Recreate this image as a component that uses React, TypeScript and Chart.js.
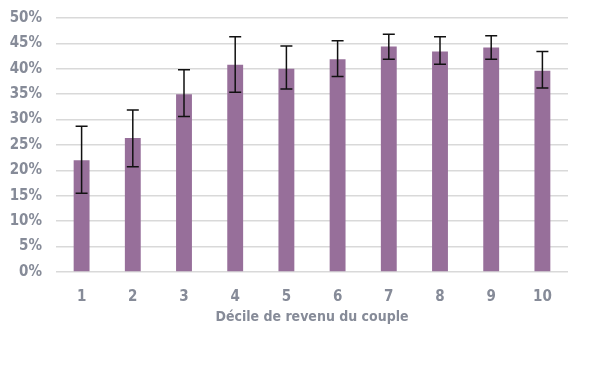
import React, { useEffect, useRef } from "react";
import { Chart, registerables } from "chart.js";

Chart.register(...registerables);

const categories = ["1", "2", "3", "4", "5", "6", "7", "8", "9", "10"];
const values = [22.0, 26.4, 35.0, 40.8, 40.0, 41.9, 44.4, 43.4, 44.2, 39.6];
const errLow = [15.5, 20.7, 30.6, 35.4, 36.0, 38.5, 41.9, 40.9, 41.9, 36.2];
const errHigh = [28.7, 31.9, 39.8, 46.3, 44.5, 45.5, 46.8, 46.3, 46.5, 43.4];
const xTitle = "Décile de revenu du couple";

const FONT = "'Liberation Sans Narrow', 'DejaVu Sans Condensed', sans-serif";
const TICK_COLOR = "#868b98";

const errorBarPlugin = {
  id: "errorBars",
  afterDatasetsDraw(chart: any) {
    const ctx = chart.ctx;
    const meta = chart.getDatasetMeta(0);
    const yScale = chart.scales.y;
    ctx.save();
    ctx.strokeStyle = "#111111";
    ctx.lineWidth = 1.5;
    meta.data.forEach((bar: any, i: number) => {
      const x = bar.x;
      const yTop = yScale.getPixelForValue(errHigh[i]);
      const yBot = yScale.getPixelForValue(errLow[i]);
      const cap = 6;
      ctx.beginPath();
      ctx.moveTo(x, yTop);
      ctx.lineTo(x, yBot);
      ctx.moveTo(x - cap, yTop);
      ctx.lineTo(x + cap, yTop);
      ctx.moveTo(x - cap, yBot);
      ctx.lineTo(x + cap, yBot);
      ctx.stroke();
    });
    ctx.restore();
  },
};

export default function App() {
  const ref = useRef<HTMLCanvasElement | null>(null);
  useEffect(() => {
    document.body.style.margin = "0";
    const canvas = ref.current!;
    const chart = new Chart(canvas, {
      type: "bar",
      data: {
        labels: categories,
        datasets: [
          {
            data: values,
            backgroundColor: "#976f9a",
            borderWidth: 0,
            categoryPercentage: 1,
            barPercentage: 0.31,
          },
        ],
      },
      options: {
        responsive: false,
        animation: false,
        devicePixelRatio: 1,
        layout: { padding: { left: 8, right: 32, top: 18, bottom: 40 } },
        plugins: {
          legend: { display: false },
          tooltip: { enabled: false },
        },
        scales: {
          x: {
            grid: { display: false },
            border: { display: false },
            afterFit(scale: any) {
              scale.height = 54;
            },
            ticks: {
              color: TICK_COLOR,
              padding: 8,
              font: { family: FONT, size: 15, weight: "bold" },
            },
            title: {
              display: true,
              text: xTitle,
              color: TICK_COLOR,
              padding: { top: 0, bottom: 0 },
              font: { family: FONT, size: 14, weight: "bold" },
            },
          },
          y: {
            min: 0,
            max: 50,
            grid: { color: "#d9d9d9", lineWidth: 1.5, drawTicks: false },
            border: { display: false },
            afterFit(scale: any) {
              scale.width = 48;
              scale.paddingTop = 0;
              scale.paddingBottom = 0;
            },
            ticks: {
              stepSize: 5,
              color: TICK_COLOR,
              padding: 14,
              callback: (v: any) => v + "%",
              font: { family: FONT, size: 15, weight: "bold" },
            },
          },
        },
      },
      plugins: [errorBarPlugin],
    });
    return () => chart.destroy();
  }, []);
  return <canvas ref={ref} width={600} height={366} />;
}
